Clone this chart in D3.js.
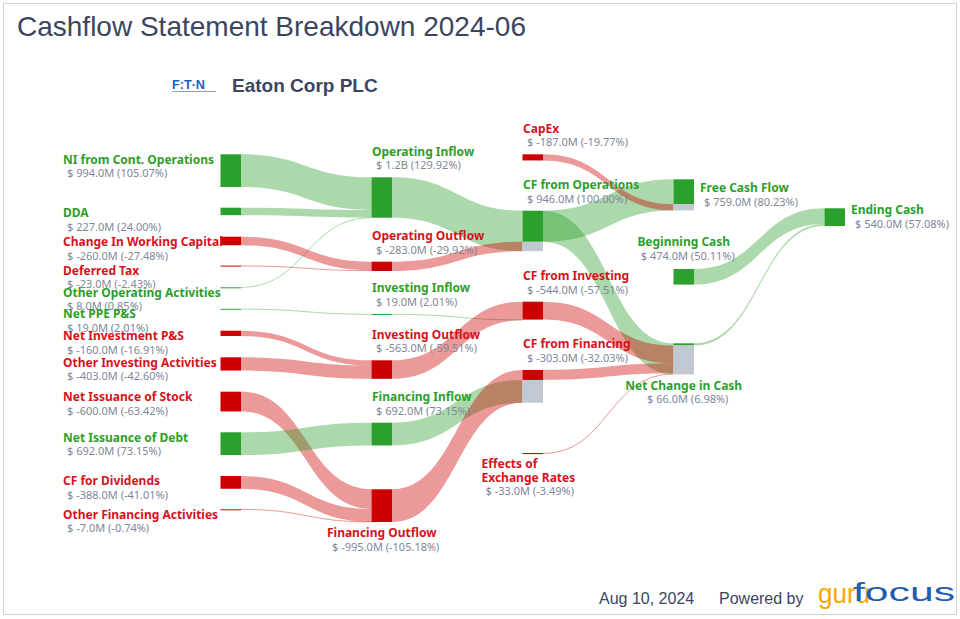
<!DOCTYPE html>
<html>
<head>
<meta charset="utf-8">
<script src="https://cdn.jsdelivr.net/npm/d3@7"></script>
<style>
  body { margin: 0; background: #fff; }
  svg { display: block; }
</style>
</head>
<body>
<svg id="chart" width="960" height="619" viewBox="0 0 960 619"></svg>
<script>
// ---------- data (values in $M) ----------
const nodeNames = [
  "NI from Cont. Operations", "DDA", "Change In Working Capital", "Deferred Tax",
  "Other Operating Activities", "Net PPE P&S", "Net Investment P&S", "Other Investing Activities",
  "Net Issuance of Stock", "Net Issuance of Debt", "CF for Dividends", "Other Financing Activities",
  "Operating Inflow", "Operating Outflow", "Investing Inflow", "Investing Outflow",
  "Financing Inflow", "Financing Outflow",
  "CapEx", "CF from Operations", "CF from Investing", "CF from Financing", "Effects of Exchange Rates",
  "Free Cash Flow", "Beginning Cash", "Net Change in Cash",
  "Ending Cash"
];
const nodeValues = [
  994, 227, -260, -23, 8, 19, -160, -403, -600, 692, -388, -7,
  1229, -283, 19, -563, 692, -995,
  -187, 946, -544, -303, -33,
  759, 474, 66,
  540
];
// flows: source index -> target index
const linkSources = [0, 1, 4, 2, 3, 5, 6, 7, 8, 10, 11, 9, 12, 13, 14, 15, 16, 17, 19, 18, 19, 20, 21, 22, 24, 25];
const linkTargets = [12, 12, 12, 13, 13, 14, 15, 15, 17, 17, 17, 16, 19, 19, 20, 20, 21, 21, 23, 23, 25, 25, 25, 25, 26, 26];
const baseValue = 946; // CF from Operations = 100%

const titleText = "Cashflow Statement Breakdown 2024-06";
const companyName = "Eaton Corp PLC";
const dateText = "Aug 10, 2024";

// ---------- layout (column, top of node in px, label placement) ----------
const nodeColumn = [0,0,0,0,0,0,0,0,0,0,0,0, 1,1,1,1,1,1, 2,2,2,2,2, 3,3,3, 4];
const nodeTop = [
  154.3, 207.7, 236.7, 265.6, 287.3, 308.8, 330.7, 357.3, 391.7, 432.3, 476, 509.3,
  177.3, 261.7, 314, 360.3, 422.7, 489.3,
  154.3, 210.7, 301.7, 370, 453,
  179.3, 269, 343.3,
  208.3
];
const nodeLabel = [
  "left","left","left","left","left","left","left","left","left","left","left","left",
  "above","above","above","above","above","below",
  "above","above","above","above","wrap",
  "right","aboveMid","below",
  "right"
];

const GREEN = "#2ca02c", RED = "#cc0000", RED_TEXT = "#d7121c", GREY_PART = "#c2c8d1";
const VALUE_TEXT = "#7e8799", DARK = "#3b4560";
const LABEL_FONT = "'Noto Sans', 'Open Sans', sans-serif";
const SANS = "'Liberation Sans', Arial, sans-serif";

const svg = d3.select('#chart');

// frame
svg.append('rect')
  .attr('x', 3.5).attr('y', 3.5).attr('width', 953).attr('height', 611)
  .attr('fill', 'none').attr('stroke', '#cdd2db');

// title
svg.append('text')
  .attr('x', 17).attr('y', 36)
  .attr('font-family', SANS)
  .attr('font-size', 28).attr('fill', DARK)
  .text(titleText);

// company logo + name
const logo = svg.append('g').attr('transform', 'translate(172,79)');
logo.append('text').attr('x', 0).attr('y', 10)
  .attr('font-family', SANS)
  .attr('font-weight', 'bold').attr('font-size', 12).attr('fill', '#1a5fc0')
  .attr('textLength', 33).attr('lengthAdjust', 'spacingAndGlyphs').text("F:T·N");
logo.append('rect').attr('x', 0).attr('y', 12).attr('width', 44).attr('height', 1)
  .attr('fill', '#9aa0aa');
svg.append('text')
  .attr('x', 232).attr('y', 92)
  .attr('font-family', SANS)
  .attr('font-weight', 'bold').attr('font-size', 19).attr('fill', DARK)
  .text(companyName);

// ---------- scales ----------
const xCol = d3.scaleLinear().domain([0, 4]).range([220.5, 824.5]);
const nodeW = 20.5;
const hScale = d3.scaleLinear().domain([0, 1000]).range([0, 32.9]);

// ---------- build graph ----------
const nodes = nodeNames.map((name, i) => ({
  name, value: nodeValues[i], x: xCol(nodeColumn[i]), top: nodeTop[i],
  label: nodeLabel[i], inLinks: [], outLinks: []
}));
const links = linkSources.map((s, i) => ({
  source: nodes[s], target: nodes[linkTargets[i]], value: Math.abs(nodeValues[s])
}));
links.forEach(l => { l.source.outLinks.push(l); l.target.inLinks.push(l); });

// incoming flows of the node's own sign fill it from the top,
// opposite-sign flows stack in the grey part below the net value
nodes.forEach(n => {
  const sign = Math.sign(n.value);
  const main = n.inLinks.filter(l => Math.sign(l.source.value) === sign);
  const other = n.inLinks.filter(l => Math.sign(l.source.value) !== sign);
  n.total = n.inLinks.length ? d3.sum(main, l => l.value) : Math.abs(n.value);
  let off = 0;
  main.forEach(l => { l.tOff = off; off += l.value; });
  off = Math.abs(n.value);
  other.forEach(l => { l.tOff = off; off += l.value; });
});

// ---------- links ----------
function bandPath(x0, y0, x1, y1, w) {
  const xm = (x0 + x1) / 2;
  const p = d3.path();
  p.moveTo(x0, y0);
  p.bezierCurveTo(xm, y0, xm, y1, x1, y1);
  p.lineTo(x1, y1 + w);
  p.bezierCurveTo(xm, y1 + w, xm, y0 + w, x0, y0 + w);
  p.closePath();
  return p.toString();
}
const thinLink = d3.linkHorizontal().x(d => d[0]).y(d => d[1]);

const linkG = svg.append('g');
links.forEach(l => {
  const w = hScale(l.value);
  const x0 = l.source.x + nodeW, x1 = l.target.x;
  const y0 = l.source.top, y1 = l.target.top + hScale(l.tOff);
  const col = l.source.value >= 0 ? GREEN : RED;
  if (w < 1.2) {
    linkG.append('path')
      .attr('d', thinLink({ source: [x0, y0 + w / 2], target: [x1, y1 + w / 2] }))
      .attr('fill', 'none').attr('stroke', col).attr('stroke-opacity', 0.4).attr('stroke-width', 1);
  } else {
    linkG.append('path')
      .attr('d', bandPath(x0, y0, x1, y1, w))
      .attr('fill', col).attr('fill-opacity', 0.4);
  }
});

// ---------- nodes ----------
const nodeG = svg.append('g');
nodes.forEach(n => {
  const hv = hScale(Math.abs(n.value));
  const ht = hScale(n.total);
  nodeG.append('rect')
    .attr('x', n.x).attr('y', n.top).attr('width', nodeW).attr('height', Math.max(hv, 1))
    .attr('fill', n.value >= 0 ? GREEN : RED);
  if (ht - hv > 0.8) {
    nodeG.append('rect')
      .attr('x', n.x).attr('y', n.top + hv).attr('width', nodeW).attr('height', ht - hv)
      .attr('fill', GREY_PART);
  }
});

// ---------- labels ----------
const fmtMoney = v => Math.abs(v) >= 1000 ? `$ ${(v / 1000).toFixed(1)}B` : `$ ${v.toFixed(1)}M`;
const fmtPct = v => `(${(v / baseValue * 100).toFixed(2)}%)`;

const labelG = svg.append('g').attr('font-family', LABEL_FONT);
function addLabel(lines, value, x, yName, anchor, color) {
  lines.forEach((t, i) => {
    labelG.append('text')
      .attr('x', x).attr('y', yName + i * 13.5)
      .attr('dy', '0.35em').attr('text-anchor', anchor)
      .attr('font-size', 12).attr('font-weight', 'bold').attr('fill', color)
      .text(t);
  });
  labelG.append('text')
    .attr('x', x + 4).attr('y', yName + lines.length * 13.5 + 0.5)
    .attr('dy', '0.35em').attr('text-anchor', anchor)
    .attr('font-size', 11).attr('fill', VALUE_TEXT)
    .text(`${fmtMoney(value)} ${fmtPct(value)}`);
}

nodes.forEach(n => {
  const color = n.value >= 0 ? GREEN : RED_TEXT;
  const h = hScale(n.total);
  const cx = n.x + nodeW / 2;
  switch (n.label) {
    case 'left':
      addLabel([n.name], n.value, 63, n.top + 5, 'start', color); break;
    case 'above':
      addLabel([n.name], n.value, n.x + 0.5, n.top - 26, 'start', color); break;
    case 'aboveMid':
      addLabel([n.name], n.value, cx, n.top - 27, 'middle', color); break;
    case 'below':
      addLabel([n.name], n.value, cx, n.top + h + 11, 'middle', color); break;
    case 'wrap': {
      const words = n.name.split(' ');
      addLabel([words.slice(0, 2).join(' '), words.slice(2).join(' ')], n.value,
        n.x - 41, n.top + 11, 'start', color);
      break;
    }
    case 'right':
      addLabel([n.name], n.value, n.x + nodeW + 6, n.top + h / 2 - 7, 'start', color); break;
  }
});

// ---------- footer ----------
const foot = svg.append('g').attr('font-family', SANS).attr('fill', DARK);
foot.append('text').attr('x', 599).attr('y', 604).attr('font-size', 16).text(dateText);
foot.append('text').attr('x', 719).attr('y', 604).attr('font-size', 16).text("Powered by");
foot.append('text').attr('x', 818).attr('y', 603)
  .attr('font-size', 28).attr('fill', '#f5a800')
  .attr('textLength', 52).attr('lengthAdjust', 'spacingAndGlyphs').text("guru");
foot.append('text').attr('x', 853).attr('y', 601)
  .attr('font-size', 26).attr('fill', '#1d5fae')
  .attr('textLength', 102).attr('lengthAdjust', 'spacingAndGlyphs').text("focus");
</script>
</body>
</html>
